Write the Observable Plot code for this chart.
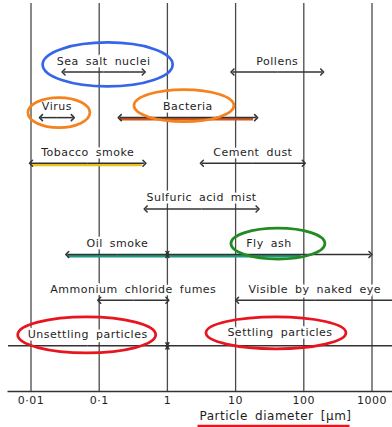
<!DOCTYPE html>
<html><head><meta charset="utf-8">
<script src="https://cdn.jsdelivr.net/npm/d3@7"></script>
<script src="https://cdn.jsdelivr.net/npm/@observablehq/plot@0.6"></script>
<style>
html,body{margin:0;padding:0;background:#fff;}
#chart svg text{letter-spacing:0.5px;word-spacing:3px;}
</style></head><body><div id="chart"></div>
<script>
// ---- data ----
const particleNames = ["Sea salt nuclei","Pollens","Virus","Bacteria","Tobacco smoke","Cement dust","Sulfuric acid mist","Oil smoke","Fly ash","Ammonium chloride fumes","Visible by naked eye","Unsettling particles","Settling particles"];
const sizeFrom = [0.03, 9, 0.014, 0.2, 0.01, 3.2, 0.48, 0.034, 1, 0.1, 10.5, 0.0046, 1];
const sizeTo   = [0.45, 186, 0.041, 20, 0.46, 100, 21, 1, 950, 1, 2000, 1, 2000];
const rowIndex = [0, 0, 1, 1, 2, 2, 3, 4, 4, 5, 5, 6, 6];
const headStart = [1,1,1,1,1,1,1,1,1,1,1,0,1];
const headEnd   = [1,1,1,1,1,1,1,1,1,1,0,1,0];
const tickValues = [0.01, 0.1, 1, 10, 100, 1000];
const tickLabels = ["0·01", "0·1", "1", "10", "100", "1000"];
const axisTitle = "Particle diameter [µm]";
const axisRow = 7;
const openLeft = 0.0046, openRight = 2000;
const highlightNames = ["Tobacco smoke", "Bacteria", "Oil smoke"];
const highlightFrom = [0.01, 0.2, 0.034];
const highlightTo = [0.42, 18, 90];
const highlightRow = [2, 1, 4];
const circledNames = ["Sea salt nuclei","Virus","Bacteria","Fly ash","Unsettling particles","Settling particles"];

// ---- build ----
const items = particleNames.map((name, i) => ({name, from: sizeFrom[i], to: sizeTo[i], row: rowIndex[i], s: headStart[i], e: headEnd[i]}));
const highlights = highlightNames.map((name, i) => ({name, from: highlightFrom[i], to: highlightTo[i], row: highlightRow[i]}));
const mid = d => Math.sqrt(d.from * d.to);
// each range drawn as two half-segments from its middle outward, so heads point outward
const segments = items.flatMap(d => [
  {a: mid(d), b: d.from, row: d.row, head: d.s},
  {a: mid(d), b: d.to, row: d.row, head: d.e}
]);

const hlColor = {"Tobacco smoke": "#e5c51c", "Bacteria": "#d0561c", "Oil smoke": "#1d9a80"};
const circleStyle = {
  "Sea salt nuclei":     {color: "#3566e8", rx: 65, ry: 22, dx: 4,  dy: -7.5},
  "Virus":               {color: "#f5821f", rx: 31, ry: 15, dx: 2,  dy: -5},
  "Bacteria":            {color: "#f5821f", rx: 50, ry: 16, dx: -4, dy: -12},
  "Fly ash":             {color: "#228b22", rx: 47, ry: 15.5, dx: 9, dy: -11},
  "Unsettling particles":{color: "#e8141e", rx: 69, ry: 18, dx: -1, dy: -11},
  "Settling particles":  {color: "#e8141e", rx: 70, ry: 16, dx: -4, dy: -13}
};
function ellipseSymbol(rx, ry) {
  const k = 0.5523;
  return {draw(c) {
    c.moveTo(rx, 0);
    c.bezierCurveTo(rx, ry * k, rx * k, ry, 0, ry);
    c.bezierCurveTo(-rx * k, ry, -rx, ry * k, -rx, 0);
    c.bezierCurveTo(-rx, -ry * k, -rx * k, -ry, 0, -ry);
    c.bezierCurveTo(rx * k, -ry, rx, -ry * k, rx, 0);
    c.closePath();
  }};
}
function hLineSymbol(half) {
  return {draw(c) { c.moveTo(-half, 0); c.lineTo(half, 0); }};
}
const segStyle = {x1: "a", x2: "b", y1: "row", y2: "row", stroke: "#333", strokeWidth: 1.5};
const textFill = "#1e1e1e";

const marks = [
  Plot.ruleX(tickValues, {stroke: "#4a4a4a", strokeWidth: 1.3}),
  Plot.ruleY([axisRow], {x1: openLeft, x2: openRight, stroke: "#333", strokeWidth: 1.5}),
  Plot.link(highlights, {x1: "from", x2: "to", y1: "row", y2: "row", dy: 1.5, stroke: d => hlColor[d.name], strokeWidth: 3}),
  Plot.link(segments.filter(d => d.head), {...segStyle, markerEnd: "arrow"}),
  Plot.link(segments.filter(d => !d.head), segStyle),
  Plot.text(items.filter(d => d.name !== "Settling particles"), {x: mid, y: "row", dy: -11, text: "name", fill: textFill, stroke: "white", strokeWidth: 5, fontSize: 11}),
  Plot.text(items.filter(d => d.name === "Settling particles"), {x: mid, y: "row", dy: -13, text: "name", fill: textFill, stroke: "white", strokeWidth: 5, fontSize: 11}),
  ...circledNames.map(n => {
    const st = circleStyle[n];
    return Plot.dot(items.filter(d => d.name === n), {x: mid, y: "row", dx: st.dx, dy: st.dy, symbol: ellipseSymbol(st.rx, st.ry), fill: "none", stroke: st.color, strokeWidth: 2.7});
  }),
  Plot.axisX(tickValues, {tickSize: 0, tickPadding: 5, tickFormat: d => tickLabels[tickValues.indexOf(d)], label: null, fontSize: 11, fill: textFill}),
  Plot.text([axisTitle], {frameAnchor: "bottom", dx: 74, dy: 28, text: d => d, fontSize: 12, fill: textFill}),
  Plot.dot([axisTitle], {frameAnchor: "bottom", dx: 72, dy: 35, symbol: hLineSymbol(76), fill: "none", stroke: "#e8141e", strokeWidth: 3.5})
];

const chart = Plot.plot({
  width: 392, height: 427,
  marginTop: 3, marginBottom: 36, marginLeft: 30.5, marginRight: 20.5,
  x: {type: "log", domain: [0.01, 1000], range: [30.5, 371.5]},
  y: {domain: [-1.5, axisRow], reverse: true, axis: null},
  style: {fontFamily: "DejaVu Sans", fontSize: "11px", background: "white", color: "#1e1e1e", overflow: "visible"},
  marks
});
document.getElementById("chart").appendChild(chart);
</script></body></html>
